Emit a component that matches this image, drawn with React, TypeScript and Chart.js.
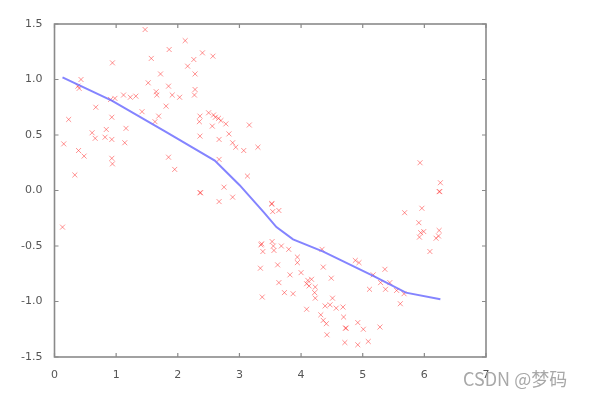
import React, { useEffect, useRef } from "react";
import { Chart, registerables } from "chart.js";

Chart.register(...registerables);

const pointX = [
  1.47, 2.12, 1.86, 2.4, 2.57, 2.26, 1.57, 0.94, 2.16, 1.72, 2.28, 0.43, 1.52, 0.38, 0.4, 1.85, 1.65, 1.66, 1.91, 2.03,
  2.28, 2.27, 1.12, 0.98, 0.91, 1.23, 1.32, 0.67, 1.81, 1.42, 1.69, 1.63, 0.23, 0.93, 2.36, 2.35, 2.5, 2.58, 2.61, 2.66,
  2.7, 2.56, 2.78, 3.16, 0.84, 1.16, 0.61, 0.66, 0.82, 0.93, 1.14, 0.15, 2.36, 2.67, 2.83, 2.89, 2.94, 3.07, 3.3, 0.39,
  0.48, 0.93, 0.94, 1.85, 1.95, 2.67, 0.33, 3.13, 2.75, 2.36, 2.37, 2.67, 2.89, 0.13, 3.35, 3.38, 3.34, 3.37, 5.93, 6.26,
  6.24, 6.25, 3.52, 3.53, 3.54, 3.64, 5.68, 5.96, 5.91, 5.94, 5.99, 5.92, 6.24, 6.23, 6.19, 6.09, 3.36, 3.53, 3.55, 3.56,
  3.68, 3.8, 3.94, 3.94, 4.0, 4.34, 4.36, 3.62, 3.82, 3.64, 3.73, 3.87, 4.11, 4.17, 4.09, 4.13, 4.23, 4.22, 4.23, 4.49,
  4.51, 4.39, 4.47, 4.57, 4.68, 4.09, 4.32, 4.36, 4.41, 4.42, 4.69, 4.72, 4.73, 4.71, 4.92, 5.09, 4.92, 5.01, 5.28, 4.88,
  4.94, 5.17, 5.36, 5.11, 5.29, 5.37, 5.44, 5.55, 5.67, 5.61,
];
const pointY = [
  1.45, 1.35, 1.27, 1.24, 1.21, 1.18, 1.19, 1.15, 1.12, 1.05, 1.05, 1.0, 0.97, 0.94, 0.92, 0.94, 0.89, 0.86, 0.86, 0.84,
  0.91, 0.86, 0.86, 0.83, 0.82, 0.84, 0.85, 0.75, 0.76, 0.71, 0.67, 0.62, 0.64, 0.66, 0.67, 0.62, 0.7, 0.68, 0.66, 0.65,
  0.63, 0.58, 0.6, 0.59, 0.55, 0.56, 0.52, 0.47, 0.48, 0.46, 0.43, 0.42, 0.49, 0.46, 0.51, 0.43, 0.39, 0.36, 0.39, 0.36,
  0.31, 0.29, 0.24, 0.3, 0.19, 0.28, 0.14, 0.13, 0.03, -0.02, -0.02, -0.1, -0.06, -0.33, -0.49, -0.55, -0.7, -0.96, 0.25, 0.07,
  -0.01, -0.01, -0.12, -0.12, -0.19, -0.18, -0.2, -0.16, -0.29, -0.38, -0.37, -0.42, -0.36, -0.41, -0.43, -0.55, -0.48, -0.46, -0.5, -0.54,
  -0.5, -0.53, -0.6, -0.65, -0.74, -0.53, -0.69, -0.67, -0.76, -0.83, -0.92, -0.93, -0.81, -0.8, -0.84, -0.86, -0.87, -0.92, -0.97, -0.79,
  -0.97, -1.04, -1.03, -1.06, -1.05, -1.07, -1.12, -1.17, -1.2, -1.3, -1.14, -1.24, -1.24, -1.37, -1.39, -1.36, -1.19, -1.25, -1.23, -0.63,
  -0.65, -0.76, -0.71, -0.89, -0.83, -0.89, -0.83, -0.9, -0.93, -1.02,
];

const lineX = [0.13, 0.93, 1.8, 2.6, 3.0, 3.4, 3.6, 3.87, 4.36, 5.17, 5.7, 6.26];
const lineY = [1.02, 0.81, 0.53, 0.27, 0.05, -0.2, -0.33, -0.44, -0.55, -0.77, -0.92, -0.98];

const xTicks = [0, 1, 2, 3, 4, 5, 6, 7];
const yTicks = [-1.5, -1.0, -0.5, 0.0, 0.5, 1.0, 1.5];

const framePlugin = {
  id: "frame",
  afterDraw(chart: any) {
    const { ctx, chartArea, scales } = chart;
    const { left, top, right, bottom } = chartArea;
    ctx.save();
    ctx.strokeStyle = "#8a8a8a";
    ctx.lineWidth = 1.6;
    ctx.strokeRect(left, top, right - left, bottom - top);
    ctx.lineWidth = 1.2;
    ctx.beginPath();
    xTicks.forEach((v) => {
      const px = scales.x.getPixelForValue(v);
      ctx.moveTo(px, bottom);
      ctx.lineTo(px, bottom - 4);
      ctx.moveTo(px, top);
      ctx.lineTo(px, top + 4);
    });
    yTicks.forEach((v) => {
      const py = scales.y.getPixelForValue(v);
      ctx.moveTo(left, py);
      ctx.lineTo(left + 4, py);
      ctx.moveTo(right, py);
      ctx.lineTo(right - 4, py);
    });
    ctx.stroke();
    ctx.restore();
  },
};

export default function App() {
  const ref = useRef<HTMLCanvasElement>(null);
  useEffect(() => {
    if (!ref.current) return;
    const chart = new Chart(ref.current, {
      type: "scatter",
      data: {
        datasets: [
          {
            label: "fit",
            data: lineX.map((x, i) => ({ x, y: lineY[i] })),
            showLine: true,
            borderColor: "rgba(110,110,255,0.85)",
            borderWidth: 2,
            pointRadius: 0,
            tension: 0,
            order: 0,
          },
          {
            label: "data",
            data: pointX.map((x, i) => ({ x, y: pointY[i] })),
            showLine: false,
            pointStyle: "crossRot",
            pointRadius: 3.5,
            borderColor: "rgba(255,40,40,0.5)",
            backgroundColor: "rgba(255,40,40,0.5)",
            pointBorderWidth: 1,
            order: 1,
          },
        ],
      },
      options: {
        animation: false,
        responsive: false,
        layout: { padding: { left: 0, top: 24, right: 104, bottom: 0 } },
        plugins: { legend: { display: false }, tooltip: { enabled: false } },
        scales: {
          x: {
            type: "linear",
            min: 0,
            max: 7,
            afterFit: (s: any) => {
              s.height = 39;
            },
            afterBuildTicks: (s: any) => {
              s.ticks = xTicks.map((v) => ({ value: v }));
            },
            grid: { display: false },
            border: { display: false },
            ticks: {
              padding: 4,
              color: "#555",
              font: { family: "DejaVu Sans", size: 11 },
              callback: (v: any) => String(v),
              maxRotation: 0,
            },
          },
          y: {
            type: "linear",
            min: -1.5,
            max: 1.5,
            afterFit: (s: any) => {
              s.width = 54.5;
            },
            afterBuildTicks: (s: any) => {
              s.ticks = yTicks.map((v) => ({ value: v }));
            },
            grid: { display: false },
            border: { display: false },
            ticks: {
              padding: 4,
              color: "#555",
              font: { family: "DejaVu Sans", size: 11 },
              callback: (v: any) => Number(v).toFixed(1),
            },
          },
        },
      },
      plugins: [framePlugin],
    });
    return () => chart.destroy();
  }, []);
  return (
    <div style={{ position: "fixed", left: 0, top: 0, width: 590, height: 396, background: "#fff" }}>
      <canvas ref={ref} width={590} height={396} style={{ display: "block" }} />
      <div
        style={{
          position: "absolute",
          left: 463,
          top: 365,
          fontFamily: "'Noto Sans CJK SC', 'Noto Sans', sans-serif",
          fontSize: 18,
          color: "#a8a8a8",
          whiteSpace: "nowrap",
        }}
      >
        CSDN @梦码
      </div>
    </div>
  );
}
